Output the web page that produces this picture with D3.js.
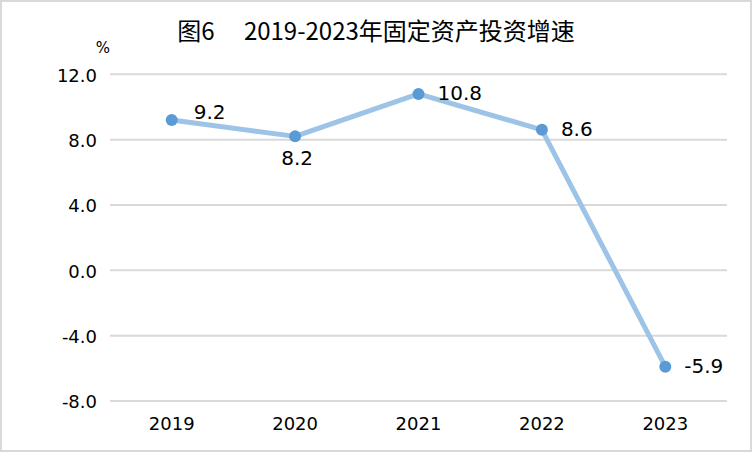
<!DOCTYPE html>
<html><head><meta charset="utf-8">
<script src="https://cdn.jsdelivr.net/npm/d3@7"></script>
<style>
html,body{margin:0;padding:0;background:#fff;}
svg{display:block;}
</style></head>
<body>
<svg id="chart" width="752" height="452"></svg>
<script>
const categories = ["2019","2020","2021","2022","2023"];
const values = [9.2, 8.2, 10.8, 8.6, -5.9];
const yTicks = [-8, -4, 0, 4, 8, 12];
const title = "图6\u3000 2019-2023年固定资产投资增速";
const unit = "%";
// label placement
const labelPos = ["rightUp","below","right","right","right"];

const W = 752, H = 452;
const svg = d3.select("#chart");
const m = {left:110, right:25, top:74.3, bottom:51};

svg.append("rect").attr("x",1).attr("y",1).attr("width",W-2).attr("height",H-2)
  .attr("fill","#fff").attr("stroke","#d9d9d9").attr("stroke-width",2);

const x = d3.scaleBand().domain(categories).range([m.left, W-m.right]);
const y = d3.scaleLinear().domain([-8,12]).range([H-m.bottom, m.top]);

const font = "'DejaVu Sans', sans-serif";
const fmt = v => d3.format(".1f")(v).replace("\u2212","-");

// gridlines
svg.append("g").selectAll("line").data(yTicks).join("line")
  .attr("x1", m.left).attr("x2", W-m.right)
  .attr("y1", d=>y(d)).attr("y2", d=>y(d))
  .attr("stroke","#d9d9d9").attr("stroke-width",2);

// y axis labels
const yAxis = d3.axisLeft(y).tickValues(yTicks).tickFormat(fmt).tickSize(0).tickPadding(13);
const gy = svg.append("g").attr("transform",`translate(${m.left},0)`).call(yAxis);
gy.select(".domain").remove();
gy.selectAll("text").attr("font-family",font).attr("font-size",18).attr("fill","#000").attr("dy","0.38em");

// x axis labels
const xAxis = d3.axisBottom(x).tickSize(0).tickPadding(16);
const gx = svg.append("g").attr("transform",`translate(0,${H-m.bottom})`).call(xAxis);
gx.select(".domain").remove();
gx.selectAll("text").attr("font-family",font).attr("font-size",18).attr("fill","#000");

// line
const cx = d => x(d) + x.bandwidth()/2;
const line = d3.line().x((d,i)=>cx(categories[i])).y(d=>y(d));
svg.append("path").datum(values).attr("d",line)
  .attr("fill","none").attr("stroke","#9dc3e6").attr("stroke-width",5)
  .attr("stroke-linejoin","round");

// markers
svg.append("g").selectAll("circle").data(values).join("circle")
  .attr("cx",(d,i)=>cx(categories[i])).attr("cy",d=>y(d)).attr("r",6)
  .attr("fill","#5b9bd5");

// data labels
svg.append("g").selectAll("text").data(values).join("text")
  .attr("x",(d,i)=> labelPos[i]==="below" ? cx(categories[i]) + 2 : cx(categories[i]) + (labelPos[i]==="rightUp" ? 22 : 19))
  .attr("y",(d,i)=> labelPos[i]==="below" ? y(d) + 29 : (labelPos[i]==="rightUp" ? y(d) - 1 : y(d) + 6))
  .attr("text-anchor",(d,i)=> labelPos[i]==="below" ? "middle" : "start")
  .attr("font-family",font).attr("font-size",20).attr("fill","#000")
  .text(d=>fmt(d));

// unit
svg.append("text").attr("x",103).attr("y",53).attr("text-anchor","middle")
  .attr("font-family",font).attr("font-size",15).attr("fill","#000").text(unit);

// title
svg.append("text").attr("x",376).attr("y",40).attr("text-anchor","middle")
  .attr("font-family","'Noto Sans CJK SC', sans-serif").attr("font-size",24).attr("fill","#000")
  .text(title);
</script>
</body></html>
